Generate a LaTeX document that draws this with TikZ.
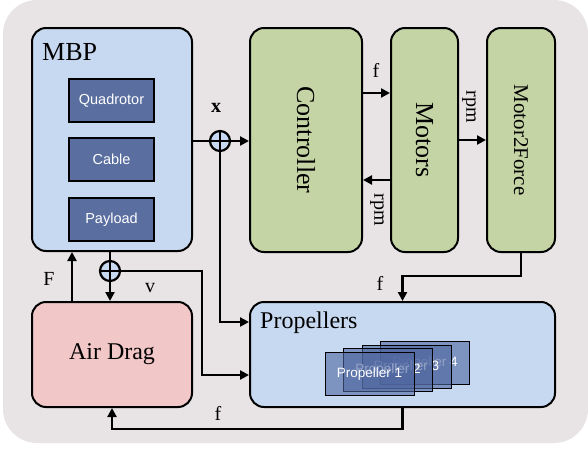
\documentclass[tikz,border=0pt]{standalone}
\usepackage{fontspec}
\setmainfont{Liberation Serif}
\setsansfont{Liberation Sans}
\usetikzlibrary{positioning,arrows.meta}
\definecolor{bgc}{HTML}{E8E4E5}
\definecolor{blueL}{HTML}{C6D9F1}
\definecolor{greenL}{HTML}{C4D4A4}
\definecolor{pinkL}{HTML}{F2C7C7}
\definecolor{innerB}{HTML}{5A6F9F}
\definecolor{propB}{HTML}{4F66A0}
\begin{document}
\begin{tikzpicture}[x=1pt,y=-1pt,
  blk/.style={draw=black, line width=2pt, rounded corners=14pt, inner sep=0pt},
  bigtxt/.style={font=\fontsize{26}{30}\selectfont, inner sep=0pt},
  midtxt/.style={font=\fontsize{24}{28}\selectfont, inner sep=0pt},
  lbl/.style={font=\fontsize{20}{24}\selectfont, inner sep=0pt},
  subbox/.style={draw=black, line width=2pt, fill=innerB, text=white,
    font=\sffamily\fontsize{14.5}{17}\selectfont, minimum width=85pt, minimum height=43pt},
  pbox/.style={draw=black, line width=0.9pt, fill=propB, fill opacity=0.6, text opacity=1,
    text=white, font=\sffamily\fontsize{13.5}{15}\selectfont, minimum width=89pt, minimum height=43pt},
  sumnode/.style={circle, draw, line width=2.2pt, fill=blueL, minimum size=20pt, inner sep=0pt,
    path picture={\draw[line width=2.2pt] (path picture bounding box.north) -- (path picture bounding box.south)
      (path picture bounding box.west) -- (path picture bounding box.east);}},
  ln/.style={line width=2.7pt},
  arr/.style={line width=2.7pt, -{Triangle[length=9pt,width=9pt]}}]
\useasboundingbox (0,0) rectangle (588,448);
\fill[bgc, rounded corners=34pt] (3,0) rectangle (588,443);

\node[blk, fill=blueL, minimum width=160pt, minimum height=223pt] (mbp) at (112,139.5) {};
\node[bigtxt, anchor=base west] (mbptxt) at (42,60) {MBP};
\node[subbox] (quad) at (111.5,100.5) {Quadrotor};
\node[subbox, below=14pt of quad] (cable) {Cable};
\node[subbox, below=15pt of cable] (payload) {Payload};

\node[blk, fill=greenL, minimum width=112pt, minimum height=224pt] (ctrl) at (306,140) {};
\node[bigtxt, rotate=-90] at (ctrl.center) {Controller};
\node[blk, fill=greenL, minimum width=67pt, minimum height=224pt] (mot) at (424.5,140) {};
\node[bigtxt, rotate=-90] at (mot.center) {Motors};
\node[blk, fill=greenL, minimum width=68pt, minimum height=224pt] (m2f) at (521,140) {};
\node[lbl, font=\fontsize{21}{24}\selectfont, rotate=-90] at (m2f.center) {Motor2Force};

\node[blk, fill=pinkL, minimum width=160pt, minimum height=105pt] (air) at (112,354.5) {};
\node[midtxt] at (air.center) {Air Drag};
\node[blk, fill=blueL, minimum width=305pt, minimum height=105pt] (prop) at (402.5,354.5) {};
\node[midtxt, anchor=base west] (proptxt) at (260,328) {Propellers};
\foreach \i in {4,3,2,1}
  \node[pbox] (prop\i) at ({369.5+18.5*(\i-1)},{373.5-3.5*(\i-1)}) {Propeller \i};

\node[sumnode] (px) at (220,141) {};
\node[sumnode] (pv) at (110,271) {};
\node[lbl, font=\bfseries\fontsize{20}{24}\selectfont] at (216,108) {x};

\draw[ln] (px -| mbp.east) -- (px);
\draw[arr] (px) -- (px -| ctrl.west);
\draw[arr] (px) |- (prop.west |- 0,322);
\draw[arr] (ctrl.east |- 0,93) -- (mot.west |- 0,93);
\node[lbl] at (376,70) {f};
\draw[arr] (mot.west |- 0,180) -- (ctrl.east |- 0,180);
\node[lbl, rotate=-90] at (377,210) {rpm};
\draw[arr] (mot.east |- 0,140) -- (m2f.west |- 0,140);
\node[lbl, rotate=-90] at (469,107) {rpm};
\draw[arr] (m2f.south) -- ++(0,23) -| (prop.north);
\node[lbl] at (380,283) {f};
\draw[arr] (prop.south) -- ++(0,21) -| (air.south);
\node[lbl] at (218,413) {f};
\draw[arr] (air.north -| 72,0) -- (mbp.south -| 72,0);
\node[lbl] at (49,279) {F};
\draw[ln] (mbp.south -| pv) -- (pv);
\draw[arr] (pv) -- (pv |- air.north);
\draw[arr] (pv) -| (202,375) -- (prop.west |- 0,375);
\node[lbl] at (150,288) {v};
\end{tikzpicture}
\end{document}
